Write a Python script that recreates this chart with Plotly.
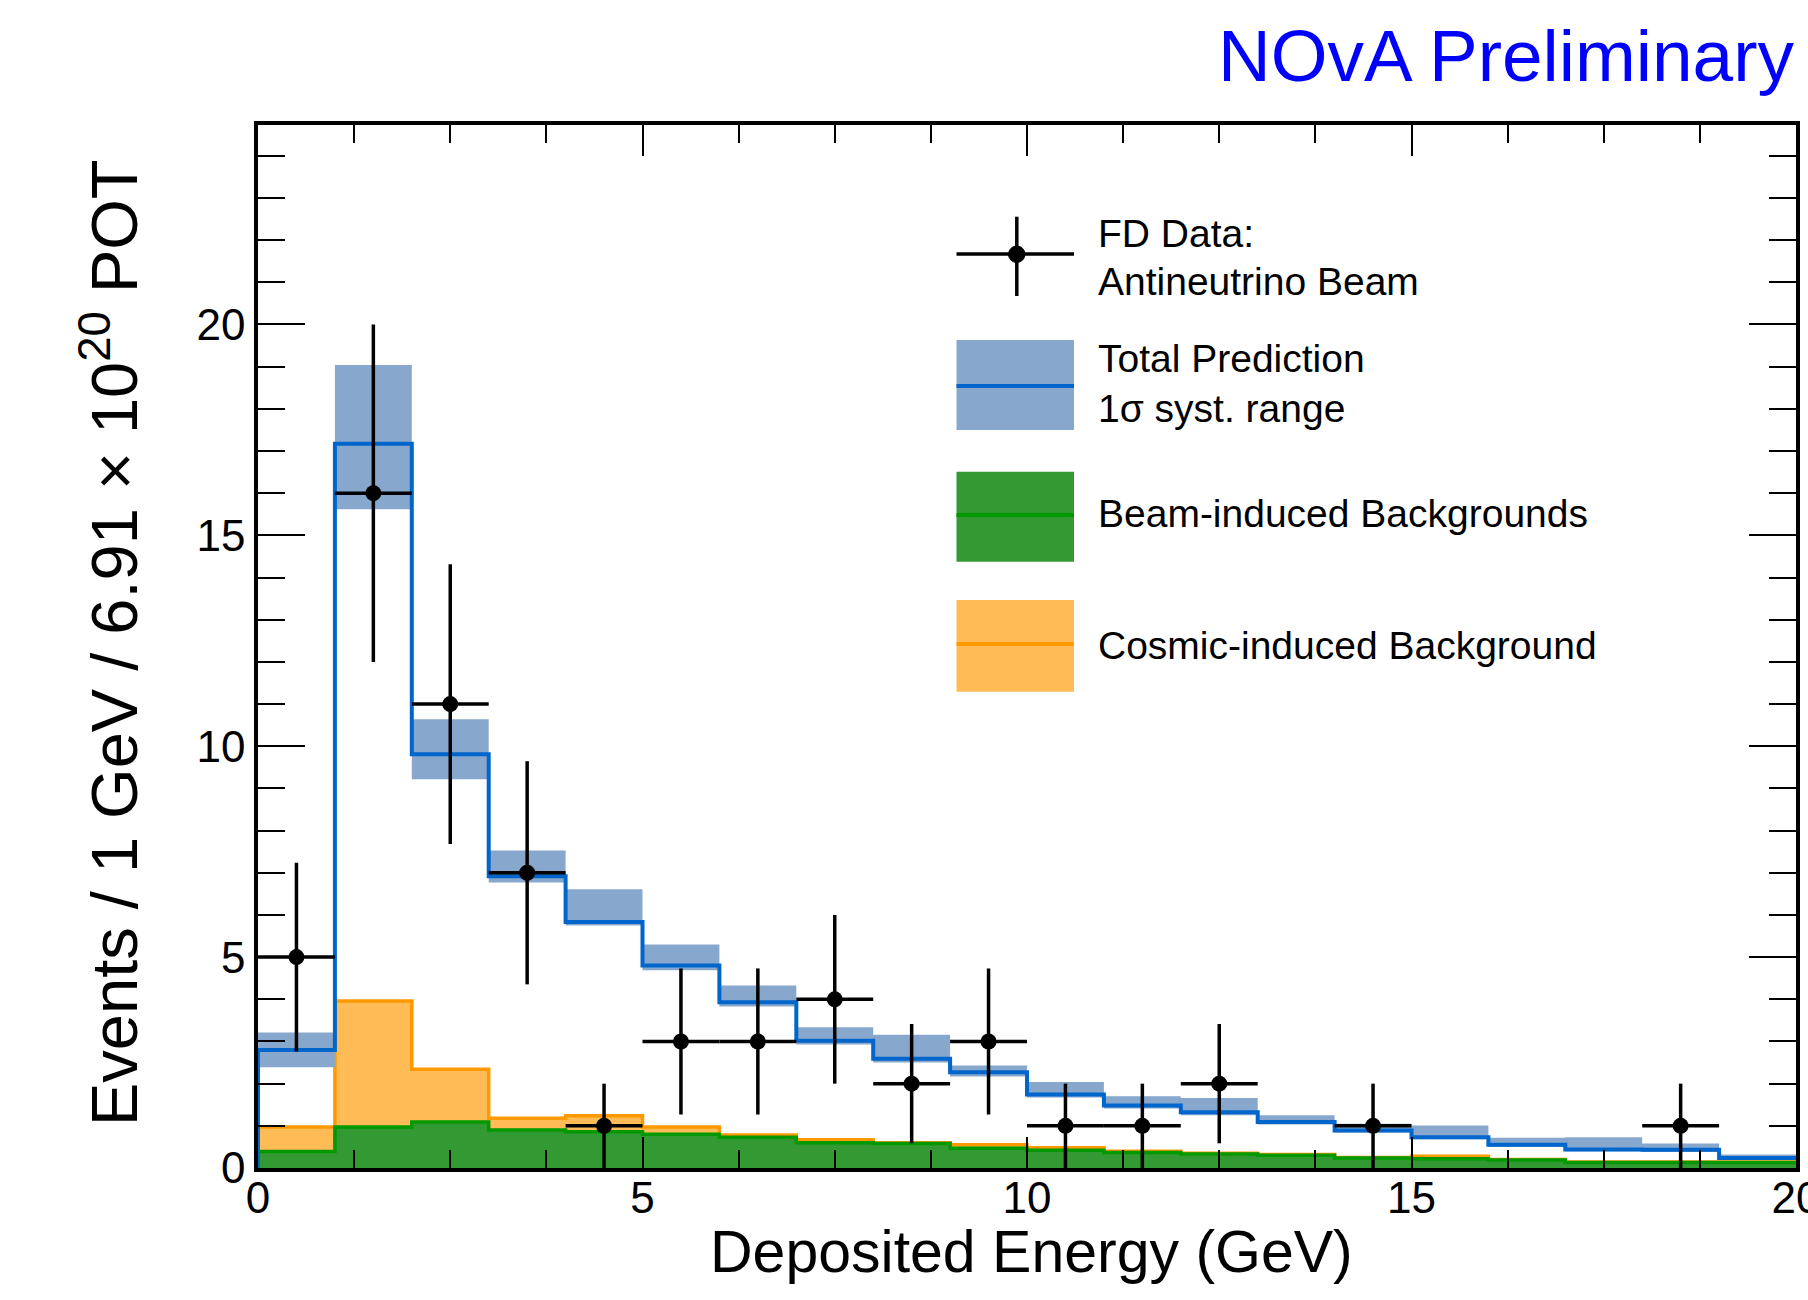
import numpy as np
import plotly.graph_objects as go

# ---------------- data ----------------
bin_edges = list(range(0, 21))  # GeV, 1 GeV bins
total_pred = [2.80, 17.17, 9.81, 6.92, 5.83, 4.80, 3.93, 3.02, 2.59, 2.27,
              1.74, 1.48, 1.32, 1.09, 0.89, 0.73, 0.55, 0.44, 0.43, 0.24]
syst_up = [3.21, 19.04, 10.64, 7.53, 6.61, 5.30, 4.33, 3.34, 3.16, 2.43,
           2.04, 1.70, 1.66, 1.25, 1.05, 1.01, 0.72, 0.73, 0.58, 0.32]
syst_dn = [2.39, 15.62, 9.22, 6.77, 5.75, 4.69, 3.83, 2.93, 2.50, 2.17,
           1.67, 1.41, 1.25, 1.03, 0.84, 0.68, 0.50, 0.40, 0.38, 0.20]
beam_bkg = [0.39, 0.97, 1.09, 0.90, 0.86, 0.80, 0.73, 0.60, 0.58, 0.47,
            0.42, 0.37, 0.33, 0.30, 0.24, 0.22, 0.19, 0.13, 0.13, 0.13]
cosmic_bkg = [0.58, 2.99, 1.25, 0.28, 0.38, 0.17, 0.05, 0.07, 0.02, 0.08,
              0.06, 0.03, 0.02, 0.02, 0.01, 0.06, 0.01, 0.01, 0.01, 0.01]
data_counts = [5, 16, 11, 7, 1, 3, 3, 4, 2, 3, 1, 1, 2, 0, 1, 0, 0, 0, 1, 0]

x_ticks = [0, 5, 10, 15, 20]
y_ticks = [0, 5, 10, 15, 20]

# ---------------- styling ----------------
W, H = 1808, 1300
L, R, T, B = 258, 12, 125, 132
PW, PH = W - L - R, H - T - B
FONT = "Liberation Sans, Arial, sans-serif"

BLUE = "#0066cc"
BAND = "#87a8cc"
GREEN_FILL = "#339933"
GREEN_LINE = "#009900"
ORANGE_FILL = "#ffbb55"
ORANGE_LINE = "#ff9900"


def px(x):
    return (x - L) / PW


def py(y):
    return (H - B - y) / PH


def step(vals):
    xs = [bin_edges[0]] + bin_edges
    ys = [0] + list(vals) + [vals[-1]]
    return xs, ys


fig = go.Figure()

# stacked backgrounds: cosmic on top of beam-induced
bkg_total = [b + c for b, c in zip(beam_bkg, cosmic_bkg)]
xs, ys = step(bkg_total)
fig.add_trace(go.Scatter(x=xs, y=ys, mode="lines", line=dict(shape="hv", color=ORANGE_LINE, width=3.5),
                         fill="tozeroy", fillcolor=ORANGE_FILL, hoverinfo="skip", showlegend=False))
xs, ys = step(beam_bkg)
fig.add_trace(go.Scatter(x=xs, y=ys, mode="lines", line=dict(shape="hv", color=GREEN_LINE, width=3.5),
                         fill="tozeroy", fillcolor=GREEN_FILL, hoverinfo="skip", showlegend=False))

# systematic band
fig.add_trace(go.Scatter(x=bin_edges, y=list(syst_dn) + [syst_dn[-1]], mode="lines",
                         line=dict(shape="hv", width=0, color=BAND), hoverinfo="skip", showlegend=False))
fig.add_trace(go.Scatter(x=bin_edges, y=list(syst_up) + [syst_up[-1]], mode="lines",
                         line=dict(shape="hv", width=0, color=BAND), fill="tonexty", fillcolor=BAND,
                         hoverinfo="skip", showlegend=False))

# total prediction line
xs, ys = step(total_pred)
fig.add_trace(go.Scatter(x=xs, y=ys, mode="lines", line=dict(shape="hv", color=BLUE, width=4),
                         hoverinfo="skip", showlegend=False))

# data points
centers = [(bin_edges[i] + bin_edges[i + 1]) / 2 for i in range(len(data_counts))]
idx = [i for i, c in enumerate(data_counts) if c > 0]
dx = [centers[i] for i in idx]
dy = [data_counts[i] for i in idx]
dex = [(bin_edges[i + 1] - bin_edges[i]) / 2 for i in idx]
dey = list(np.sqrt(dy))
fig.add_trace(go.Scatter(x=dx, y=dy, mode="markers",
                         marker=dict(symbol="circle", size=16, color="black"),
                         error_x=dict(type="data", array=dex, width=0, thickness=3.5, color="black"),
                         error_y=dict(type="data", array=dey, width=0, thickness=3.5, color="black"),
                         showlegend=False))

# ---------------- manual legend ----------------
shapes = []
# data symbol
shapes.append(dict(type="line", xref="paper", yref="paper", x0=px(956.5), x1=px(1074), y0=py(254), y1=py(254),
                   line=dict(color="black", width=3.5)))
shapes.append(dict(type="line", xref="paper", yref="paper", x0=px(1016.8), x1=px(1016.8), y0=py(216.7), y1=py(296),
                   line=dict(color="black", width=3.5)))
shapes.append(dict(type="circle", xref="paper", yref="paper", x0=px(1008.5), x1=px(1025), y0=py(262.5), y1=py(246),
                   fillcolor="black", line=dict(color="black", width=1)))
# boxes with centre lines
for (top, bot, mid, fillc, linec) in [(340, 430, 386, BAND, BLUE),
                                      (471.7, 561.7, 515, GREEN_FILL, GREEN_LINE),
                                      (600, 691.7, 644, ORANGE_FILL, ORANGE_LINE)]:
    shapes.append(dict(type="rect", xref="paper", yref="paper", x0=px(956.5), x1=px(1074), y0=py(bot), y1=py(top),
                       fillcolor=fillc, line=dict(width=0)))
    shapes.append(dict(type="line", xref="paper", yref="paper", x0=px(956.5), x1=px(1074), y0=py(mid), y1=py(mid),
                       line=dict(color=linec, width=4)))

legend_texts = [("FD Data:", 233.4), ("Antineutrino Beam", 281.7), ("Total Prediction", 359),
                ("1σ syst. range", 408), ("Beam-induced Backgrounds", 513), ("Cosmic-induced Background", 645)]
annotations = []
for txt, yc in legend_texts:
    annotations.append(dict(text=txt, xref="paper", yref="paper", x=px(1096), y=py(yc), xanchor="left",
                            yanchor="middle", showarrow=False, font=dict(family=FONT, size=39, color="black")))

annotations.append(dict(text="NOvA Preliminary", xref="paper", yref="paper", x=px(1797), y=py(55),
                        xanchor="right", yanchor="middle", showarrow=False,
                        font=dict(family=FONT, size=73, color="#0000ff")))
annotations.append(dict(text="Deposited Energy (GeV)", xref="paper", yref="paper", x=px(1031), y=py(1252),
                        xanchor="center", yanchor="middle", showarrow=False,
                        font=dict(family=FONT, size=59, color="black")))
annotations.append(dict(text="Events / 1 GeV / 6.91 × 10<sup>20</sup> POT", xref="paper", yref="paper",
                        x=px(110), y=py(643), xanchor="center", yanchor="middle", textangle=-90,
                        showarrow=False, font=dict(family=FONT, size=65, color="black")))

axis_common = dict(showline=True, linewidth=3.5, linecolor="black", mirror="ticks", showgrid=False,
                   zeroline=False, ticks="inside", tickwidth=2, tickcolor="black", layer="above traces",
                   ticklabeloverflow="allow", automargin=False,
                   tickfont=dict(family=FONT, size=44, color="black"))

fig.update_layout(
    width=W, height=H, margin=dict(l=L, r=R, t=T, b=B, autoexpand=False),
    paper_bgcolor="white", plot_bgcolor="white", showlegend=False,
    xaxis=dict(range=[0, 20], tickmode="array", tickvals=x_ticks, ticktext=[str(v) for v in x_ticks],
               ticklen=31, ticklabelstandoff=-12,
               minor=dict(tick0=0, dtick=1.25, ticks="inside", ticklen=18, tickwidth=2, tickcolor="black",
                          showgrid=False),
               **axis_common),
    yaxis=dict(range=[0, 24.73], tickmode="array", tickvals=y_ticks, ticktext=[str(v) for v in y_ticks],
               ticklen=47,
               minor=dict(tick0=0, dtick=1, ticks="inside", ticklen=27, tickwidth=2, tickcolor="black",
                          showgrid=False),
               **axis_common),
    shapes=shapes, annotations=annotations,
)

fig.write_html("out.html", config={"displayModeBar": False},
               post_script="document.body.style.margin='0';document.body.style.overflow='hidden';")
